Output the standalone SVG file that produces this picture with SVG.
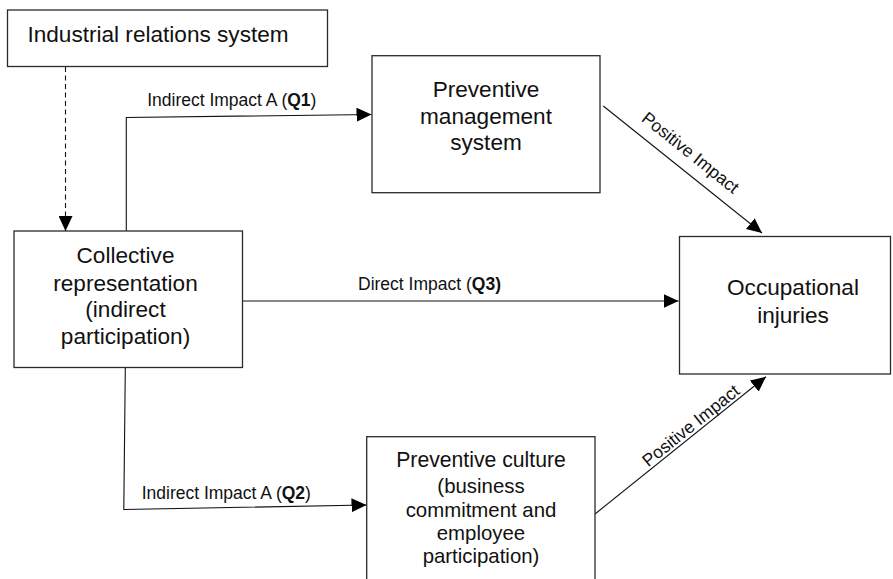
<svg xmlns="http://www.w3.org/2000/svg" width="893" height="579" viewBox="0 0 893 579">
<style>
.box{fill:#fff;stroke:#2a2a2a;stroke-width:1.3}
.t{font-family:"Liberation Sans",Arial,Helvetica,sans-serif;fill:#111;text-anchor:middle}
.big{font-size:22.6px}
.mid{font-size:20.4px}
.lab{font-size:17.5px}
.ln{fill:none;stroke:#111;stroke-width:1.1}
.dash{stroke-dasharray:5 3.5}
</style>
<defs>
<marker id="ah" viewBox="0 0 15 14" refX="15" refY="7" markerWidth="15" markerHeight="14" markerUnits="userSpaceOnUse" orient="auto">
<path d="M0,0 L15,7 L0,14 z" fill="#000"/>
</marker>
</defs>
<rect width="893" height="579" fill="#fff"/>
<g id="connectors">
<path class="ln dash" d="M65.5,67 L65.5,231" marker-end="url(#ah)"/>
<path class="ln" d="M126.3,231 L126.3,117.5 L371.5,114.5" marker-end="url(#ah)"/>
<path class="ln" d="M242.5,301 L678.5,301" marker-end="url(#ah)"/>
<path class="ln" d="M125.3,368 L123.8,509.5 L366.5,505" marker-end="url(#ah)"/>
<path class="ln" d="M603.3,106 L762,233" marker-end="url(#ah)"/>
<path class="ln" d="M595,514 L766,376.7" marker-end="url(#ah)"/>
<text class="t lab" x="231.8" y="105.5">Indirect Impact A (<tspan font-weight="bold">Q1</tspan>)</text>
<text class="t lab" x="429.5" y="290">Direct Impact (<tspan font-weight="bold">Q3)</tspan></text>
<text class="t lab" x="226.3" y="499">Indirect Impact A (<tspan font-weight="bold">Q2</tspan>)</text>
<text class="t lab" transform="translate(686.8,157.3) rotate(38.7)">Positive Impact</text>
<text class="t lab" transform="translate(694.5,430.2) rotate(-38.8)">Positive Impact</text>
</g>
<g id="industrial">
<rect class="box" x="7.5" y="10" width="320" height="56.5"/>
<text class="t big" x="158" y="42">Industrial relations system</text>
</g>
<g id="collective">
<rect class="box" x="14" y="231" width="228.5" height="136.5"/>
<text class="t big" x="125.5" y="263">Collective</text>
<text class="t big" x="125.5" y="290.5">representation</text>
<text class="t big" x="125.5" y="317">(indirect</text>
<text class="t big" x="125.5" y="344">participation)</text>
</g>
<g id="management">
<rect class="box" x="372" y="55.7" width="228" height="137"/>
<text class="t big" x="486" y="97">Preventive</text>
<text class="t big" x="486" y="123.5">management</text>
<text class="t big" x="486" y="150">system</text>
</g>
<g id="occupational">
<rect class="box" x="679.5" y="236.5" width="211" height="137.5"/>
<text class="t big" x="793" y="295">Occupational</text>
<text class="t big" x="793" y="323">injuries</text>
</g>
<g id="culture">
<rect class="box" x="366.7" y="436.7" width="228.3" height="150"/>
<text class="t" style="font-size:21.2px" x="481" y="466.5">Preventive culture</text>
<text class="t mid" x="481" y="492.7">(business</text>
<text class="t mid" x="481" y="516.5">commitment and</text>
<text class="t mid" x="481" y="540">employee</text>
<text class="t mid" x="481" y="563.3">participation)</text>
</g>
</svg>
